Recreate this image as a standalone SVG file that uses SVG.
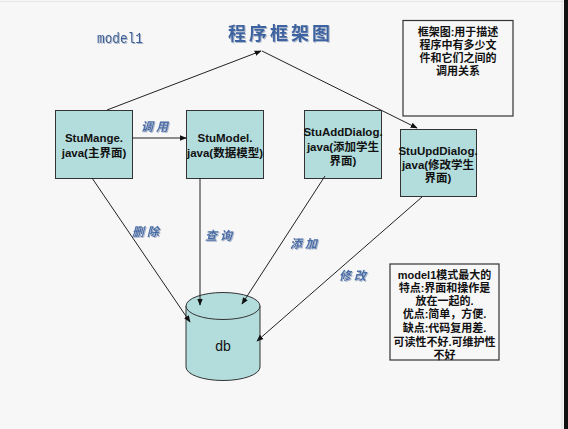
<svg xmlns="http://www.w3.org/2000/svg" width="568" height="429" viewBox="0 0 568 429">
<defs>
<marker id="ah" viewBox="0 0 10 10" refX="9" refY="5" markerWidth="7" markerHeight="7" orient="auto" markerUnits="userSpaceOnUse">
<path d="M0,1 L10,5 L0,9 z" fill="#111"/>
</marker>
<filter id="sh" x="-10%" y="-20%" width="130%" height="150%">
<feDropShadow dx="1" dy="1" stdDeviation="0.6" flood-color="#9aa8c0" flood-opacity="0.8"/>
</filter>
<style>
.box{fill:#b3dcdc;stroke:#333;stroke-width:1}
.note{fill:none;stroke:#333;stroke-width:1.2}
.nt{font-family:"Liberation Sans","Noto Sans CJK SC",sans-serif;font-size:11.5px;font-weight:bold;fill:#111;text-anchor:middle}
.cn{font-family:"Liberation Sans","Noto Sans CJK SC",sans-serif;font-size:11px;font-weight:bold;fill:#111;text-anchor:middle}
.lbl{font-family:"Noto Sans CJK SC",sans-serif;font-size:12px;font-weight:bold;font-style:italic;fill:#4a6ea8;letter-spacing:3px;filter:url(#sh)}
.edge{stroke:#222;stroke-width:1;fill:none;marker-end:url(#ah)}
</style>
</defs>
<rect x="0" y="0" width="568" height="429" fill="#f7f7f7"/>
<line x1="0" y1="1.5" x2="564" y2="1.5" stroke="#e6e6e6" stroke-width="1"/>
<line x1="562" y1="0" x2="562" y2="429" stroke="#e0e0e0" stroke-width="1"/>
<rect x="564" y="0" width="4" height="429" fill="#111"/>

<text x="97" y="43" font-family="Liberation Mono, monospace" font-size="15" fill="#3d5f95" textLength="46" lengthAdjust="spacingAndGlyphs" filter="url(#sh)">model1</text>
<text x="228" y="40" font-family="Noto Sans CJK SC, sans-serif" font-size="18" font-weight="bold" fill="#3d64a0" letter-spacing="3" filter="url(#sh)">程序框架图</text>

<g id="StuMange">
<rect class="box" x="55.5" y="110.5" width="77" height="68"/>
<text class="nt" x="94" y="142">StuMange.</text>
<text class="nt" x="94" y="157">java(主界面)</text>
</g>
<g id="StuModel">
<rect class="box" x="186.5" y="110.5" width="77" height="68"/>
<text class="nt" x="225" y="142">StuModel.</text>
<text class="nt" x="225" y="157">java(数据模型)</text>
</g>
<g id="StuAddDialog">
<rect class="box" x="304.5" y="110.5" width="77" height="68"/>
<text class="nt" x="343" y="136">StuAddDialog.</text>
<text class="nt" x="343" y="150.5">java(添加学生</text>
<text class="nt" x="343" y="164.5">界面)</text>
</g>
<g id="StuUpdDialog">
<rect class="box" x="400.5" y="129.5" width="76" height="67"/>
<text class="nt" x="438" y="155">StuUpdDialog.</text>
<text class="nt" x="438" y="168.5">java(修改学生</text>
<text class="nt" x="438" y="182">界面)</text>
</g>
<g id="db">
<path d="M186,306 L186,367 A37,13.5 0 0 0 260,367 L260,306" fill="#b3dcdc" stroke="#333" stroke-width="1"/>
<ellipse cx="223" cy="306" rx="37" ry="13.5" fill="#b3dcdc" stroke="#333" stroke-width="1"/>
<text x="223" y="351" font-family="Liberation Sans, sans-serif" font-size="14" fill="#111" text-anchor="middle">db</text>
</g>
<g id="note1">
<rect class="note" x="403" y="20.5" width="110" height="95.5"/>
<text class="cn" x="458" y="36">框架图:用于描述</text>
<text class="cn" x="458" y="49">程序中有多少文</text>
<text class="cn" x="458" y="62">件和它们之间的</text>
<text class="cn" x="458" y="75">调用关系</text>
</g>
<g id="note2">
<rect class="note" x="390" y="264" width="109" height="96"/>
<text class="cn" x="444.5" y="279">model1模式最大的</text>
<text class="cn" x="444.5" y="292">特点:界面和操作是</text>
<text class="cn" x="444.5" y="305">放在一起的.</text>
<text class="cn" x="444.5" y="318">优点:简单，方便.</text>
<text class="cn" x="444.5" y="332">缺点:代码复用差.</text>
<text class="cn" x="444.5" y="345.5">可读性不好.可维护性</text>
<text class="cn" x="444.5" y="359">不好</text>
</g>

<g id="connectors">
<line class="edge" x1="107" y1="110" x2="261" y2="51"/>
<line class="edge" x1="262" y1="51" x2="417" y2="128"/>
<line class="edge" x1="132" y1="138" x2="186" y2="138"/>
<line class="edge" x1="92" y1="178" x2="190" y2="322"/>
<line class="edge" x1="200" y1="178" x2="200" y2="305"/>
<line class="edge" x1="325" y1="176" x2="242" y2="304"/>
<line class="edge" x1="422" y1="197" x2="257" y2="341"/>
<text class="lbl" x="141" y="131">调用</text>
<text class="lbl" x="132" y="236">删除</text>
<text class="lbl" x="205" y="240">查询</text>
<text class="lbl" x="290" y="248">添加</text>
<text class="lbl" x="339" y="280">修改</text>
</g>
</svg>
